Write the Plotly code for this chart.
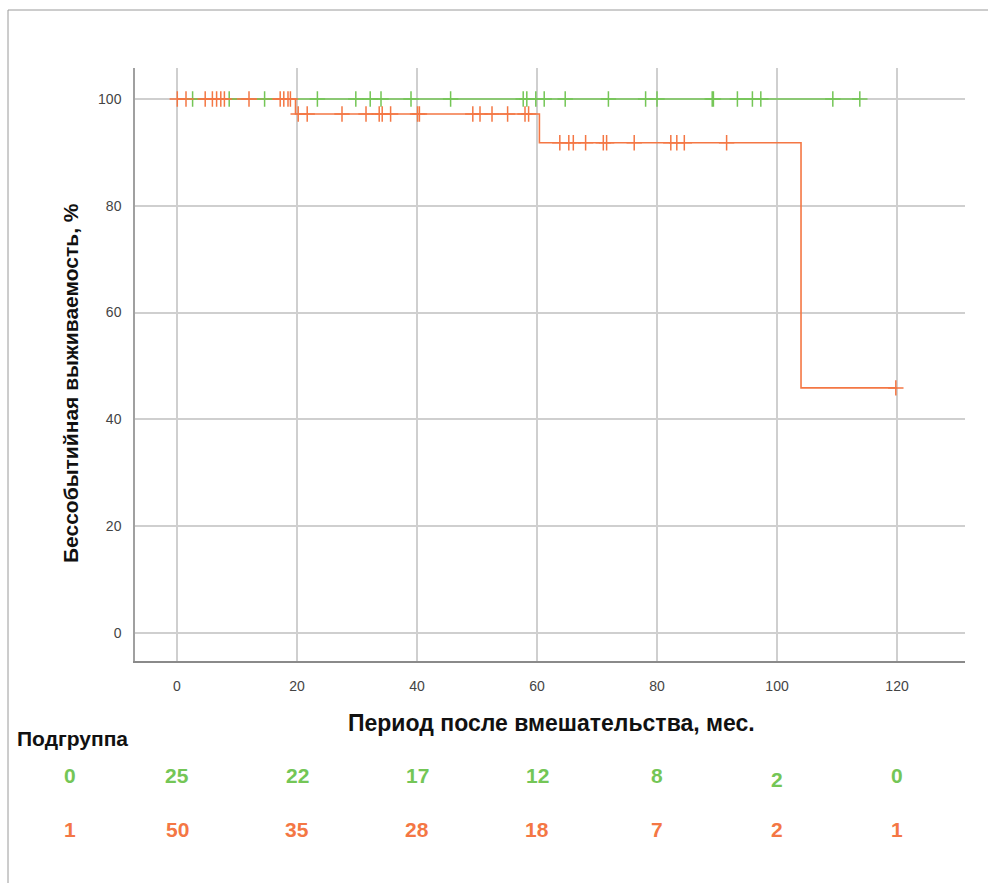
import plotly.graph_objects as go

# ---- data ----------------------------------------------------------------
# Subgroup 0: no events, survival stays at 100 %; censored observations (months)
g0_censor = [2.6, 8.7, 14.6, 23.4, 29.8, 32.2, 34.0, 39.0, 45.6, 57.7, 58.3,
             59.8, 61.2, 64.7, 71.9, 78.1, 80.0, 89.2, 89.4, 93.4, 95.9, 97.3,
             109.3, 113.8]
g0_end = 113.8
g0_level = 100.0

# Subgroup 1: event times (months) and survival (%) after each step
g1_event_times = [19.75, 60.4, 104.0]
g1_levels = [100.0, 97.2, 91.8, 45.9]
g1_end = 120.0
g1_censor = [0.05, 1.5, 4.7, 5.9, 6.6, 7.3, 7.9, 12.0, 17.2, 17.8, 18.5, 18.9,
             20.2, 21.7, 27.5, 31.5, 33.7, 34.2, 35.6, 40.1, 40.4, 49.3, 50.5,
             52.5, 55.1, 58.0, 58.6,
             63.8, 65.3, 66.05, 68.1, 71.05, 71.6, 76.2, 82.3, 83.3, 84.55, 91.6,
             119.8]

# Number-at-risk table
risk_times = [0, 20, 40, 60, 80, 100, 120]
risk_g0 = [25, 22, 17, 12, 8, 2, 0]
risk_g1 = [50, 35, 28, 18, 7, 2, 1]

x_ticks = [0, 20, 40, 60, 80, 100, 120]
y_ticks = [0, 20, 40, 60, 80, 100]

GREEN = "#74c656"
ORANGE = "#f47744"
FONT = "Liberation Sans, Arial, sans-serif"

# ---- geometry helpers (pixel -> paper) -------------------------------------
W_FIG, H_FIG = 988, 883
L, R, T, B = 135, 965, 68, 661
PW, PH = R - L, B - T


def px_x(px):
    return (px - L) / PW


def px_y(py):
    return (B - py) / PH


def surv_at(t):
    """Survival level of subgroup 1 at time t (right-continuous step)."""
    lvl = g1_levels[0]
    for et, nxt in zip(g1_event_times, g1_levels[1:]):
        if t >= et:
            lvl = nxt
    return lvl


def label(x, y, text, size, color="#111", xref="paper", angle=0):
    return dict(x=x, y=y, xref=xref, yref="paper", text=text, showarrow=False,
                xanchor="center", yanchor="middle", textangle=angle,
                font=dict(family=FONT, size=size, color=color))


# ---- traces ---------------------------------------------------------------
fig = go.Figure()

# step curves
fig.add_trace(go.Scatter(
    x=[0, g0_end], y=[g0_level, g0_level], mode="lines",
    line=dict(color=GREEN, width=1.6), hoverinfo="skip", showlegend=False))

g1_x = [0] + g1_event_times + [g1_end]
g1_y = g1_levels + [g1_levels[-1]]
fig.add_trace(go.Scatter(
    x=g1_x, y=g1_y, mode="lines", line_shape="hv",
    line=dict(color=ORANGE, width=1.6), hoverinfo="skip", showlegend=False))

# censoring marks
fig.add_trace(go.Scatter(
    x=g0_censor, y=[g0_level] * len(g0_censor), mode="markers",
    marker=dict(symbol="cross-thin", size=11,
                line=dict(color=GREEN, width=1.5)),
    showlegend=False))
fig.add_trace(go.Scatter(
    x=g1_censor, y=[surv_at(t) for t in g1_censor], mode="markers",
    marker=dict(symbol="cross-thin", size=11,
                line=dict(color=ORANGE, width=1.5)),
    showlegend=False))

# ---- annotations ---------------------------------------------------------
ann = [
    label(px_x(551), px_y(723), "<b>Период после вмешательства, мес.</b>", 23),
    label(px_x(70), px_y(383), "<b>Бессобытийная выживаемость, %</b>", 21,
          angle=-90),
    label(px_x(72), px_y(738), "<b>Подгруппа</b>", 21),
]

row_y = {0: 775, 1: 829}
for grp, vals, col in ((0, risk_g0, GREEN), (1, risk_g1, ORANGE)):
    ann.append(label(px_x(70), px_y(row_y[grp]), "<b>%d</b>" % grp, 21, col))
    for t, v in zip(risk_times, vals):
        dy = 4 if (grp == 0 and t == 100) else 0
        ann.append(label(t, px_y(row_y[grp] + dy), "<b>%d</b>" % v, 21, col,
                         xref="x"))

# outer frame lines (top and left)
shapes = [
    dict(type="line", xref="paper", yref="paper",
         x0=px_x(8), x1=px_x(988), y0=px_y(10), y1=px_y(10),
         line=dict(color="#9a9a9a", width=1)),
    dict(type="line", xref="paper", yref="paper",
         x0=px_x(8), x1=px_x(8), y0=px_y(10), y1=px_y(883),
         line=dict(color="#9a9a9a", width=1)),
]

fig.update_layout(
    width=W_FIG, height=H_FIG,
    margin=dict(l=L, r=W_FIG - R, t=T, b=H_FIG - B),
    paper_bgcolor="white", plot_bgcolor="white",
    font=dict(family=FONT, size=14, color="#333"),
    annotations=ann, shapes=shapes,
    xaxis=dict(range=[-7, 131.33], tickvals=x_ticks, showgrid=True,
               gridcolor="#cfcfcf", gridwidth=1.5, zeroline=False,
               showline=True, linecolor="#8a8a8a", linewidth=2,
               ticks="", ticklabelstandoff=11,
               tickfont=dict(family=FONT, size=14, color="#444")),
    yaxis=dict(range=[-5.24, 105.8], tickvals=y_ticks, showgrid=True,
               gridcolor="#cfcfcf", gridwidth=1.5, zeroline=False,
               showline=True, linecolor="#a0a0a0", linewidth=1.5,
               ticks="", ticklabelstandoff=9,
               tickfont=dict(family=FONT, size=14, color="#444")),
)

fig.write_html("out.html")
